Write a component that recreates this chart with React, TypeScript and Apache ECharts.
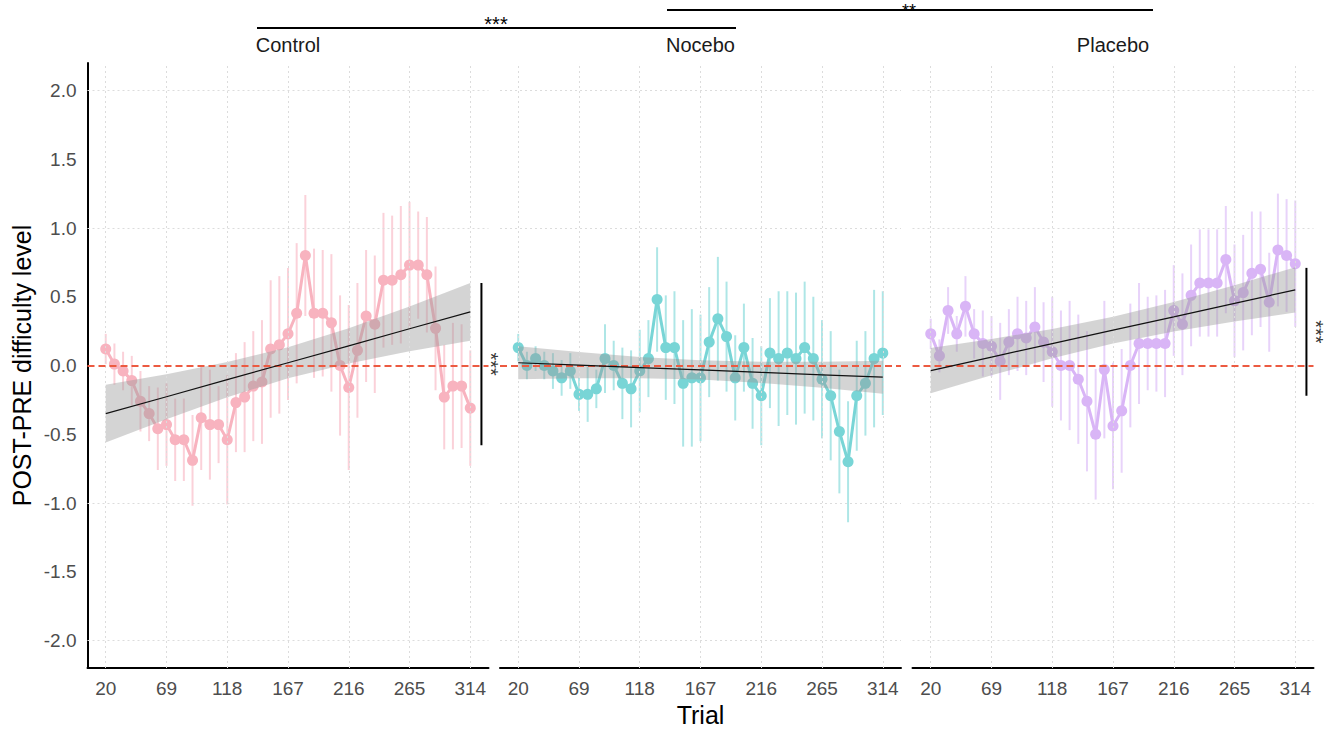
import React, { useEffect, useRef } from "react";
import * as echarts from "echarts";

// ---------- data ----------
const trials = [20, 27, 34, 41, 48, 55, 62, 69, 76, 83, 90, 97, 104, 111, 118, 125, 132, 139, 146, 153, 160, 167, 174, 181, 188, 195, 202, 209, 216, 223, 230, 237, 244, 251, 258, 265, 272, 279, 286, 293, 300, 307, 314];
const xTicks = [20, 69, 118, 167, 216, 265, 314];
const yTicks = [-2, -1.5, -1, -0.5, 0, 0.5, 1, 1.5, 2];
const yGridLines = [-2, -1, 1, 2];
const panelNames = ["Control", "Nocebo", "Placebo"];

const controlMean = [0.12, 0.01, -0.04, -0.11, -0.26, -0.35, -0.46, -0.43, -0.54, -0.54, -0.69, -0.38, -0.43, -0.43, -0.54, -0.27, -0.23, -0.15, -0.12, 0.12, 0.15, 0.23, 0.38, 0.8, 0.38, 0.38, 0.31, 0.0, -0.16, 0.11, 0.36, 0.3, 0.62, 0.62, 0.66, 0.73, 0.73, 0.66, 0.27, -0.23, -0.15, -0.15, -0.31];
const controlErr = [0.11, 0.15, 0.14, 0.18, 0.22, 0.2, 0.3, 0.3, 0.3, 0.3, 0.33, 0.38, 0.4, 0.28, 0.47, 0.36, 0.4, 0.4, 0.45, 0.5, 0.5, 0.48, 0.51, 0.44, 0.47, 0.46, 0.5, 0.51, 0.6, 0.49, 0.48, 0.5, 0.49, 0.47, 0.5, 0.46, 0.39, 0.42, 0.45, 0.38, 0.46, 0.45, 0.42];

const noceboMean = [0.13, 0.0, 0.05, 0.0, -0.04, -0.09, -0.04, -0.21, -0.21, -0.17, 0.05, 0.0, -0.13, -0.17, -0.04, 0.05, 0.48, 0.13, 0.13, -0.13, -0.09, -0.09, 0.17, 0.34, 0.21, -0.09, 0.13, -0.13, -0.22, 0.09, 0.05, 0.09, 0.05, 0.13, 0.05, -0.1, -0.22, -0.48, -0.7, -0.22, -0.13, 0.05, 0.09];
const noceboErr = [0.1, 0.1, 0.09, 0.1, 0.13, 0.13, 0.13, 0.12, 0.2, 0.14, 0.25, 0.18, 0.26, 0.28, 0.3, 0.28, 0.38, 0.38, 0.41, 0.46, 0.5, 0.46, 0.4, 0.45, 0.4, 0.31, 0.32, 0.33, 0.36, 0.4, 0.49, 0.45, 0.48, 0.48, 0.45, 0.43, 0.47, 0.45, 0.44, 0.4, 0.38, 0.5, 0.45];

const placeboMean = [0.23, 0.07, 0.4, 0.23, 0.43, 0.23, 0.16, 0.14, 0.03, 0.17, 0.23, 0.2, 0.28, 0.17, 0.1, 0.0, 0.0, -0.1, -0.26, -0.5, -0.03, -0.44, -0.33, 0.0, 0.16, 0.16, 0.16, 0.16, 0.4, 0.3, 0.51, 0.6, 0.6, 0.6, 0.77, 0.47, 0.53, 0.67, 0.7, 0.46, 0.84, 0.8, 0.74];
const placeboErr = [0.11, 0.12, 0.17, 0.13, 0.22, 0.18, 0.24, 0.22, 0.28, 0.24, 0.27, 0.27, 0.29, 0.29, 0.4, 0.4, 0.47, 0.47, 0.51, 0.475, 0.5, 0.46, 0.45, 0.45, 0.44, 0.34, 0.35, 0.39, 0.33, 0.37, 0.37, 0.39, 0.39, 0.39, 0.39, 0.41, 0.42, 0.45, 0.42, 0.36, 0.41, 0.41, 0.46];

// linear fit and its confidence band, read at the tick trials
const controlFit = [-0.35, -0.227, -0.103, 0.02, 0.143, 0.267, 0.39];
const controlLo = [-0.56, -0.39, -0.231, -0.093, 0.015, 0.104, 0.18];
const controlHi = [-0.14, -0.064, 0.025, 0.133, 0.271, 0.43, 0.6];
const noceboFit = [0.02, 0.0025, -0.015, -0.0325, -0.05, -0.0675, -0.085];
const noceboLo = [-0.1, -0.0925, -0.092, -0.1025, -0.127, -0.1625, -0.205];
const noceboHi = [0.14, 0.0975, 0.062, 0.0375, 0.027, 0.0275, 0.035];
const placeboFit = [-0.037, 0.061, 0.159, 0.257, 0.354, 0.452, 0.55];
const placeboLo = [-0.202, -0.071, 0.052, 0.16, 0.247, 0.32, 0.385];
const placeboHi = [0.128, 0.193, 0.266, 0.354, 0.461, 0.584, 0.715];

// within-group significance bars (trial position, y range, label)
const sigBarTrial = 323;
const sigStarTrial = 330.5;
const controlSig = [0.6, -0.58];
const placeboSig = [0.71, -0.22];
const sigLabel = "***";

// ---------- style ----------
const FONT = "'Liberation Sans', Arial, Helvetica, sans-serif";
const colors = ["#F8B3BF", "#78D5D6", "#D9B5F6"];
const barColors = ["rgba(248,179,191,0.6)", "rgba(120,213,214,0.6)", "rgba(217,181,246,0.6)"];
const panelLeft = [87.5, 500, 912.5];
const panelWidth = 401;
const panelTop = 63;
const panelHeight = 605;

const means = [controlMean, noceboMean, placeboMean];
const errs = [controlErr, noceboErr, placeboErr];
const fits = [controlFit, noceboFit, placeboFit];
const los = [controlLo, noceboLo, placeboLo];
const his = [controlHi, noceboHi, placeboHi];

function buildOption() {
  const grid = panelLeft.map((l) => ({ left: l, top: panelTop, width: panelWidth, height: panelHeight }));
  const xAxis = panelLeft.map((_, i) => ({
    type: "value",
    gridIndex: i,
    min: 5.3,
    max: 328.7,
    axisLine: { show: true, onZero: false, lineStyle: { color: "#000", width: 2 } },
    axisTick: { show: false },
    splitLine: { show: false },
    axisLabel: {
      customValues: xTicks,
      color: "#4D4D4D",
      fontSize: 19,
      fontFamily: FONT,
      margin: 11,
      showMinLabel: true,
      showMaxLabel: true,
    },
  }));
  const yAxis = panelLeft.map((_, i) => ({
    type: "value",
    gridIndex: i,
    min: -2.2,
    max: 2.2,
    show: i === 0,
    axisLine: { show: i === 0, onZero: false, lineStyle: { color: "#000", width: 2 } },
    axisTick: { show: false },
    splitLine: { show: false },
    axisLabel: {
      show: i === 0,
      customValues: yTicks,
      formatter: (v: number) => v.toFixed(1),
      color: "#4D4D4D",
      fontSize: 19,
      fontFamily: FONT,
      margin: 11,
    },
  }));

  const series: any[] = [];
  for (let g = 0; g < 3; g++) {
    const mean = means[g];
    const err = errs[g];
    // error bars + grid lines
    series.push({
      type: "custom",
      xAxisIndex: g,
      yAxisIndex: g,
      z: 1,
      silent: true,
      data: trials.map((t, i) => [t, mean[i] - err[i], mean[i] + err[i]]),
      encode: { x: 0, y: [1, 2] },
      renderItem: (_p: any, api: any) => {
        const a = api.coord([api.value(0), api.value(1)]);
        const b = api.coord([api.value(0), api.value(2)]);
        return {
          type: "line",
          shape: { x1: a[0], y1: a[1], x2: b[0], y2: b[1] },
          style: { stroke: barColors[g], lineWidth: 2 },
        };
      },
      markLine: {
        silent: true,
        symbol: "none",
        label: { show: false },
        lineStyle: { color: "#DCDCDC", width: 1, type: [2, 3] },
        emphasis: { disabled: true },
        data: [
          ...yGridLines.map((v) => ({ yAxis: v })),
          ...xTicks.map((v) => ({ xAxis: v })),
        ],
      },
    });
    // mean line + points
    series.push({
      type: "line",
      xAxisIndex: g,
      yAxisIndex: g,
      z: 3,
      silent: true,
      data: trials.map((t, i) => [t, mean[i]]),
      symbol: "circle",
      symbolSize: 11,
      showSymbol: true,
      lineStyle: { color: colors[g], width: 3 },
      itemStyle: { color: colors[g] },
    });
    // confidence band
    const lo = los[g];
    const hi = his[g];
    series.push({
      type: "custom",
      xAxisIndex: g,
      yAxisIndex: g,
      z: 4,
      silent: true,
      data: [[xTicks[0], lo[0], hi[0]]],
      renderItem: (_p: any, api: any) => {
        const pts: number[][] = [];
        for (let i = 0; i < xTicks.length; i++) pts.push(api.coord([xTicks[i], hi[i]]));
        for (let i = xTicks.length - 1; i >= 0; i--) pts.push(api.coord([xTicks[i], lo[i]]));
        return {
          type: "polygon",
          shape: { points: pts },
          style: { fill: "rgba(153,153,153,0.42)", stroke: "none" },
        };
      },
    });
    // fit line + zero reference
    series.push({
      type: "line",
      xAxisIndex: g,
      yAxisIndex: g,
      z: 5,
      silent: true,
      data: xTicks.map((t, i) => [t, fits[g][i]]),
      symbol: "none",
      lineStyle: { color: "#111", width: 1.2 },
      markLine: {
        silent: true,
        symbol: "none",
        label: { show: false },
        emphasis: { disabled: true },
        lineStyle: { color: "#EC5A41", width: 2, type: [7, 4] },
        data: [{ yAxis: 0 }],
      },
    });
  }

  // significance bars within Control and Placebo
  const sigs: [number, number[]][] = [
    [0, controlSig],
    [2, placeboSig],
  ];
  sigs.forEach(([g, range]) => {
    series.push({
      type: "line",
      xAxisIndex: g,
      yAxisIndex: g,
      z: 6,
      silent: true,
      clip: false,
      data: [
        [sigBarTrial, range[0]],
        [sigBarTrial, range[1]],
      ],
      symbol: "none",
      lineStyle: { color: "#000", width: 2 },
    });
    series.push({
      type: "scatter",
      xAxisIndex: g,
      yAxisIndex: g,
      z: 6,
      silent: true,
      clip: false,
      data: [[sigStarTrial, (range[0] + range[1]) / 2]],
      symbolSize: 1,
      itemStyle: { color: "rgba(0,0,0,0)" },
      label: {
        show: true,
        position: "inside",
        formatter: sigLabel,
        rotate: -90,
        fontSize: 20,
        lineHeight: 14,
        fontFamily: FONT,
        color: "#000",
      },
    });
  });

  const graphic: any[] = [];
  panelNames.forEach((name, i) => {
    graphic.push({
      type: "text",
      x: panelLeft[i] + panelWidth / 2,
      y: 45,
      style: {
        text: name,
        fontSize: 20,
        fontFamily: FONT,
        fill: "#1A1A1A",
        textAlign: "center",
        textVerticalAlign: "middle",
      },
    });
  });
  // between-group comparison brackets
  graphic.push({ type: "line", shape: { x1: 257, y1: 28, x2: 736, y2: 28 }, style: { stroke: "#000", lineWidth: 2 } });
  graphic.push({
    type: "text",
    x: 496,
    y: 24,
    style: { text: "***", fontSize: 20, fontFamily: FONT, fill: "#000", textAlign: "center", textVerticalAlign: "middle" },
  });
  graphic.push({ type: "line", shape: { x1: 667, y1: 10, x2: 1153, y2: 10 }, style: { stroke: "#000", lineWidth: 2 } });
  graphic.push({
    type: "text",
    x: 909,
    y: 11,
    style: { text: "**", fontSize: 18, lineHeight: 18, fontFamily: FONT, fill: "#000", textAlign: "center", textVerticalAlign: "middle" },
  });
  // axis titles
  graphic.push({
    type: "text",
    x: 700.5,
    y: 715,
    style: { text: "Trial", fontSize: 25, fontFamily: FONT, fill: "#000", textAlign: "center", textVerticalAlign: "middle" },
  });
  graphic.push({
    type: "text",
    x: 22,
    y: 365.5,
    rotation: Math.PI / 2,
    style: {
      text: "POST-PRE difficulty level",
      fontSize: 25,
      fontFamily: FONT,
      fill: "#000",
      textAlign: "center",
      textVerticalAlign: "middle",
    },
  });

  return {
    animation: false,
    backgroundColor: "#fff",
    textStyle: { fontFamily: FONT },
    grid,
    xAxis,
    yAxis,
    series,
    graphic,
  };
}

export default function App() {
  const ref = useRef<HTMLDivElement>(null);
  useEffect(() => {
    document.body.style.margin = "0";
    if (!ref.current) return;
    const chart = echarts.init(ref.current, null, { renderer: "svg" });
    chart.setOption(buildOption() as any);
    return () => chart.dispose();
  }, []);
  return <div ref={ref} style={{ position: "fixed", left: 0, top: 0, width: 1327, height: 731, background: "#fff" }} />;
}
